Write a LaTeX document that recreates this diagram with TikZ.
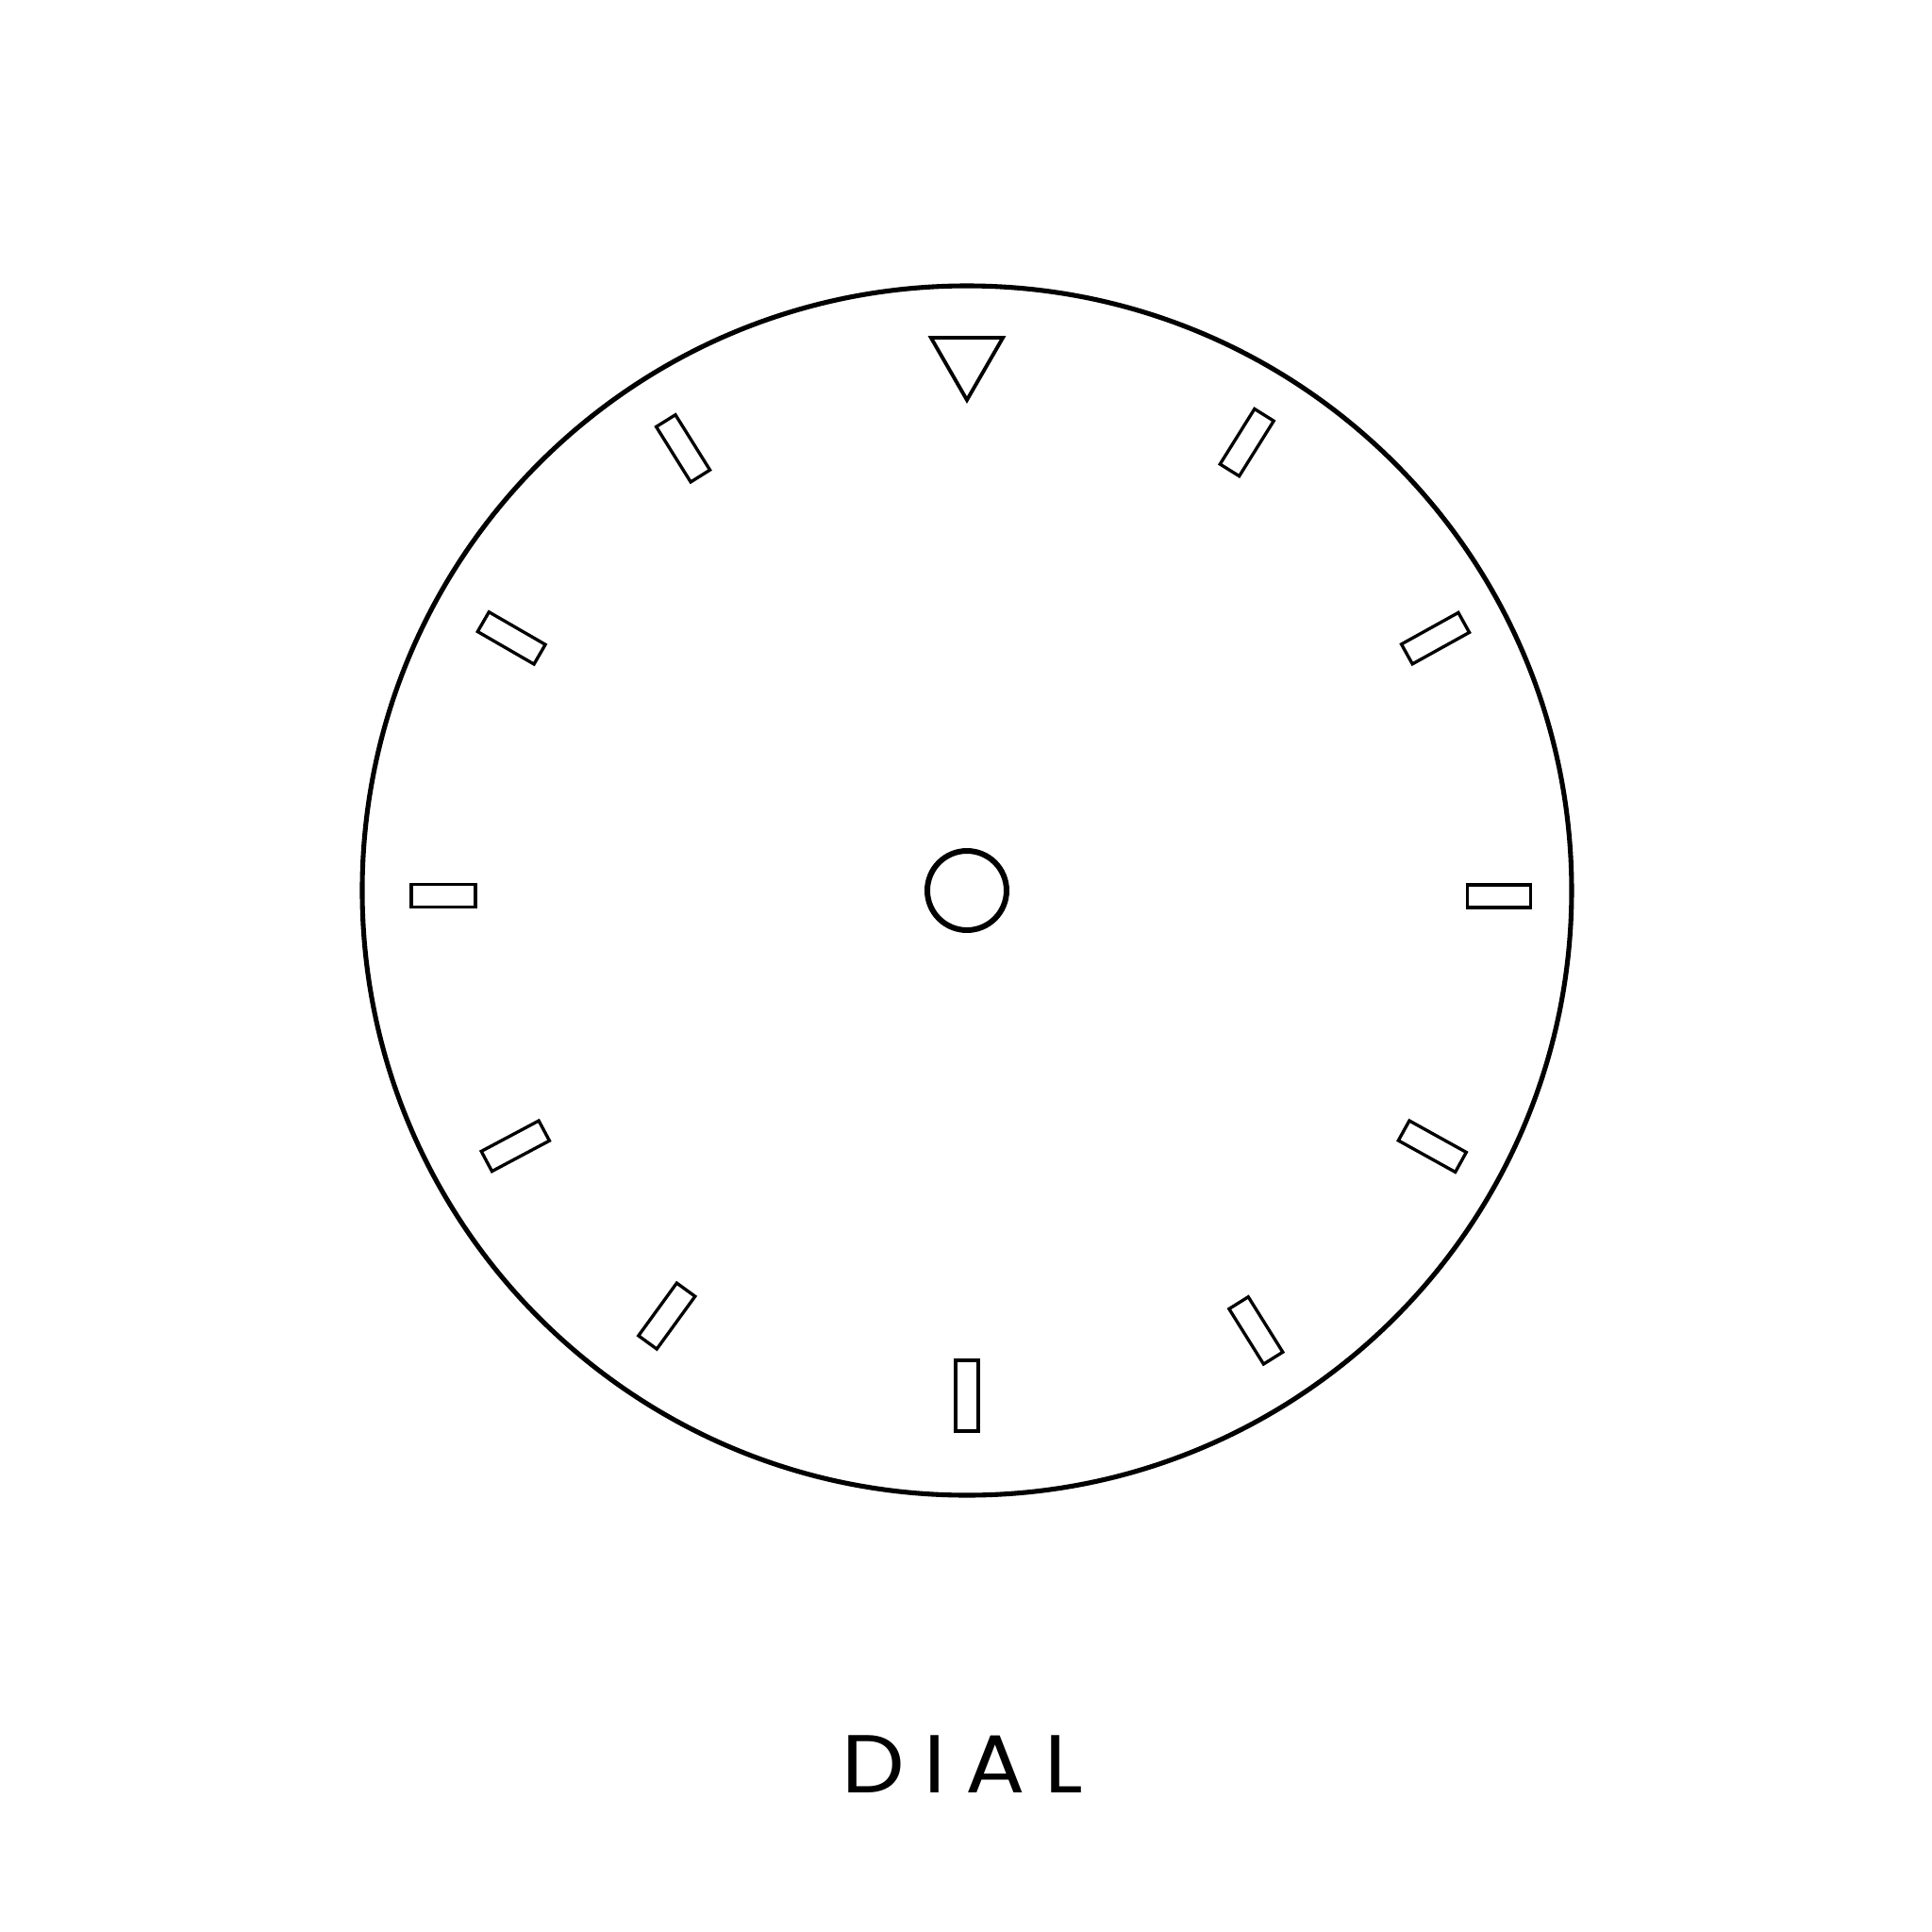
\documentclass[tikz,border=0pt]{standalone}
\usepackage{fontspec}
\setmainfont{Poppins}
\usetikzlibrary{shapes.geometric}
\usetikzlibrary{positioning}

\begin{document}
\begin{tikzpicture}
            \useasboundingbox[fill=white] (-10.25,-11.04) rectangle (10.23,9.44);
            \tikzset{
                marker/.style={draw, rectangle, line width=0.95pt, inner sep=0pt, minimum height=0.24cm},
            }
            \node[draw, circle, line width=1.45pt, inner sep=0pt, minimum size=12.82cm] (dial) at (0,0) {};
            \node[draw, circle, line width=1.7pt, inner sep=0pt, minimum size=0.84cm] (hub) at (0,0) {};
            \node[draw, regular polygon, regular polygon sides=3, shape border rotate=180, line width=1.1pt, inner sep=0pt, minimum size=0.88cm] (pointer) at (90:5.64) {};
            
            \foreach \a/\r/\l/\t [count=\i] in {58/5.60/0.69/58, 28.3/5.64/0.69/29, -0.6/5.64/0.67/0, -28.8/5.63/0.69/-29, -56.7/5.58/0.69/-58, -90/5.355/0.75/90, -125.2/5.52/0.69/-126, 209.5/5.50/0.69/208, 180.6/5.55/0.68/180, 151/5.52/0.69/150, 122.7/5.57/0.69/122}
                \node[marker, minimum width=\l cm, rotate=\t] (m\i) at (\a:\r) {};
            
            \node[anchor=base, xscale=1.08, font={\fontsize{24.8}{30}\selectfont\addfontfeature{LetterSpace=22}}] (label) at (-0.05,-9.56) {DIAL};
        \end{tikzpicture}
\end{document}
